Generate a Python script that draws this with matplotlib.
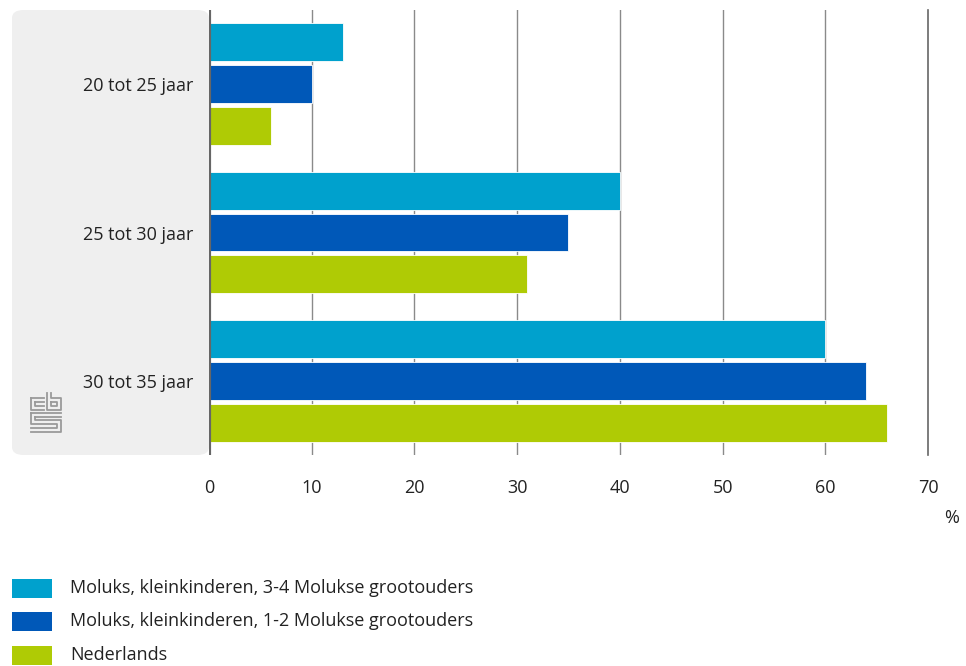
import matplotlib
matplotlib.use("Agg")
import matplotlib.pyplot as plt
from matplotlib.patches import FancyBboxPatch, Rectangle
from matplotlib.lines import Line2D
import numpy as np

plt.rcParams['font.family'] = ['Open Sans', 'DejaVu Sans']

# data
categories = ["20 tot 25 jaar", "25 tot 30 jaar", "30 tot 35 jaar"]
series_labels = ["Moluks, kleinkinderen, 3-4 Molukse grootouders",
                 "Moluks, kleinkinderen, 1-2 Molukse grootouders",
                 "Nederlands"]
values_34 = [13, 40, 60]
values_12 = [10, 35, 64]
values_nl = [6, 31, 66]
colors = ["#00A1CD", "#0058B8", "#AFCB05"]
xticks = [0, 10, 20, 30, 40, 50, 60, 70]

W, H = 966, 666
fig = plt.figure(figsize=(W / 100, H / 100), dpi=100)
fs = 13


def fx(px):
    return px / W


def fy(py):
    return 1 - py / H


# grey label panel on the left
panel = FancyBboxPatch((fx(12), fy(455)), fx(209) - fx(12), fy(10) - fy(455),
                       boxstyle="round,pad=0,rounding_size=0.012",
                       transform=fig.transFigure, facecolor="#efefef",
                       edgecolor="none", zorder=0)
fig.add_artist(panel)

ax = fig.add_axes([fx(209), fy(455), fx(928) - fx(209), fy(10) - fy(455)])
ax.set_facecolor("none")

y = np.arange(len(categories))
h = 0.255
step = 0.282
for i, vals in enumerate([values_34, values_12, values_nl]):
    ax.barh(y + (i - 1) * step, vals, height=h, color=colors[i],
            edgecolor="white", linewidth=0.6, zorder=3)

ax.set_xlim(0, 70)
ax.set_ylim(2.5, -0.5)
ax.set_xticks(xticks)
ax.set_yticks(y)
ax.set_yticklabels(categories)
ax.tick_params(axis="both", length=0, labelsize=fs, colors="#222222")
ax.tick_params(axis="x", pad=17)
ax.tick_params(axis="y", pad=11)
for t in xticks[1:-1]:
    ax.axvline(t, color="#8a8a8a", linewidth=1, zorder=1)
ax.axvline(xticks[-1], color="#666666", linewidth=1.2, zorder=1, clip_on=False)
ax.axvline(0, color="#666666", linewidth=3, zorder=4)
for s in ax.spines.values():
    s.set_visible(False)

fig.text(fx(952), fy(518), "%", ha="center", va="center", fontsize=fs, color="#222222")

# cbs logo (simplified)
lc = "#9a9a9a"
logo = [
    [(31, 398), (31, 410), (44, 410)],
    [(31, 398), (44, 398)],
    [(35, 402), (44, 402)],
    [(35, 402), (35, 406), (44, 406)],
    [(47, 393), (47, 410), (61, 410), (61, 398), (51, 398), (51, 393)],
    [(51, 402), (57, 402), (57, 406), (51, 406), (51, 402)],
    [(31, 413), (61, 413)],
    [(31, 413), (31, 424), (57, 424), (57, 428), (31, 428)],
    [(35, 417), (61, 417)],
    [(35, 417), (35, 420), (61, 420), (61, 432), (31, 432)],
]
for seg in logo:
    xs = [fx(p[0]) for p in seg]
    ys = [fy(p[1]) for p in seg]
    fig.add_artist(Line2D(xs, ys, transform=fig.transFigure, color=lc, linewidth=1.3))

# legend
for i, lab in enumerate(series_labels):
    yc = 588 + i * 33.5
    fig.add_artist(Rectangle((fx(12), fy(yc + 9.5)), fx(52) - fx(12), fy(yc - 9.5) - fy(yc + 9.5),
                             transform=fig.transFigure, facecolor=colors[i], edgecolor="none"))
    fig.text(fx(70), fy(yc), lab, ha="left", va="center", fontsize=fs, color="#222222")

fig.savefig("out.png", dpi=100)
